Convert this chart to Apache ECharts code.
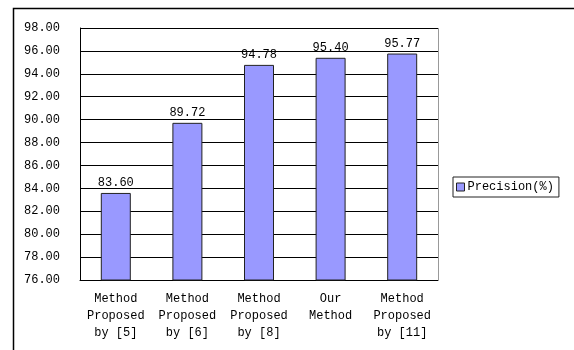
<!DOCTYPE html>
<html>
<head>
<meta charset="utf-8">
<script src="https://cdn.jsdelivr.net/npm/echarts@6/dist/echarts.min.js"></script>
<style>
  html, body { margin: 0; padding: 0; background: #fff; }
  #chart { width: 574px; height: 350px; }
</style>
</head>
<body>
<div id="chart"></div>
<script>
const categories = ['Method\nProposed\nby [5]', 'Method\nProposed\nby [6]', 'Method\nProposed\nby [8]', 'Our\nMethod', 'Method\nProposed\nby [11]']
const precision = [83.60, 89.72, 94.78, 95.40, 95.77]
const seriesName = 'Precision(%)'

const font = '"Liberation Mono", monospace'
const chart = echarts.init(document.getElementById('chart'))

const option = {
  animation: false,
  backgroundColor: '#fff',
  textStyle: { fontFamily: font },
  graphic: [
    {
      type: 'rect',
      shape: { x: 13.5, y: 8.5, width: 620, height: 400 },
      style: { fill: 'none', stroke: '#000', lineWidth: 1.5 },
      silent: true,
      z: -1
    },
    {
      type: 'line',
      shape: { x1: 438.5, y1: 28, x2: 438.5, y2: 280 },
      style: { stroke: '#999', lineWidth: 1 },
      silent: true
    }
  ],
  grid: {
    left: 80,
    top: 28,
    width: 358,
    height: 252
  },
  legend: {
    left: 453,
    top: 177,
    orient: 'vertical',
    data: [seriesName],
    icon: 'rect',
    itemWidth: 8,
    itemHeight: 8,
    itemGap: 4,
    padding: [4, 5, 4, 3],
    borderColor: '#222',
    borderWidth: 1,
    textStyle: { fontFamily: font, fontSize: 12, color: '#000', padding: [0, 0, 0, -2] },
    itemStyle: { borderColor: '#222', borderWidth: 1 }
  },
  xAxis: {
    type: 'category',
    data: categories,
    axisLine: { lineStyle: { color: '#000', width: 1 } },
    axisTick: { inside: true, length: 4, lineStyle: { color: '#000' } },
    axisLabel: {
      interval: 0,
      color: '#000',
      fontFamily: font,
      fontSize: 12,
      lineHeight: 17,
      margin: 10
    }
  },
  yAxis: {
    type: 'value',
    min: 76,
    max: 98,
    interval: 2,
    axisLine: { show: true, lineStyle: { color: '#000', width: 1 } },
    axisTick: { show: false },
    splitLine: { lineStyle: { color: '#000', width: 1 } },
    axisLabel: {
      color: '#000',
      fontFamily: font,
      fontSize: 12,
      margin: 20,
      formatter: v => v.toFixed(2)
    }
  },
  series: [
    {
      name: seriesName,
      type: 'bar',
      data: precision,
      barWidth: 30,
      itemStyle: { color: '#9999FF', borderColor: '#222', borderWidth: 1 },
      label: {
        show: true,
        position: 'top',
        distance: 4,
        color: '#000',
        fontFamily: font,
        fontSize: 12,
        formatter: p => p.value.toFixed(2)
      }
    }
  ]
}

chart.setOption(option)
</script>
</body>
</html>
